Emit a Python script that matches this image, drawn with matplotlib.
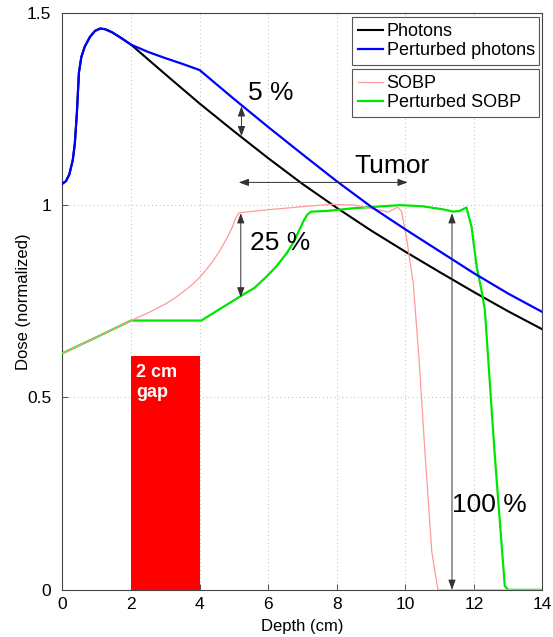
import matplotlib
matplotlib.use("Agg")
import matplotlib.pyplot as plt
from matplotlib.patches import Rectangle

plt.rcParams['font.family'] = ['Liberation Sans', 'DejaVu Sans']

# Photon depth-dose (nominal and perturbed by a 2 cm gap)
photon_depth = [0, 0.1, 0.2, 0.3, 0.36, 0.42, 0.48, 0.55, 0.65, 0.8, 0.95, 1.1, 1.25,
                1.45, 1.7, 2.0, 3, 4, 5, 6, 7, 8, 9, 10, 11, 12, 13, 14]
photon_dose = [1.056, 1.062, 1.080, 1.117, 1.16, 1.24, 1.345, 1.385, 1.412, 1.437, 1.453,
               1.459, 1.457, 1.449, 1.435, 1.417, 1.340, 1.264, 1.192, 1.122, 1.055, 0.993,
               0.934, 0.879, 0.826, 0.774, 0.724, 0.677]

pert_photon_depth = [0, 0.1, 0.2, 0.3, 0.36, 0.42, 0.48, 0.55, 0.65, 0.8, 0.95, 1.1, 1.25,
                     1.45, 1.7, 2.0, 2.5, 3, 3.5, 4, 5, 6, 7, 8, 9, 10, 11, 12, 13, 14]
pert_photon_dose = [1.056, 1.062, 1.080, 1.117, 1.16, 1.24, 1.345, 1.385, 1.412, 1.437, 1.453,
                    1.459, 1.457, 1.449, 1.435, 1.417, 1.398, 1.382, 1.367, 1.351, 1.276,
                    1.203, 1.132, 1.062, 0.996, 0.937, 0.880, 0.823, 0.770, 0.722]

# Spread-out Bragg peak (nominal and perturbed)
sobp_depth = [0, 1, 2, 2.5, 3, 3.3, 3.6, 3.8, 4.0, 4.2, 4.4, 4.6, 4.8, 4.95, 5.05, 5.15,
              6, 7, 7.8, 8.5, 9.25, 9.5, 9.78, 9.89, 10.03, 10.23, 10.4, 10.57, 10.77,
              10.95, 14]
sobp_dose = [0.615, 0.657, 0.700, 0.720, 0.743, 0.760, 0.780, 0.795, 0.812, 0.833, 0.856,
             0.883, 0.915, 0.942, 0.966, 0.980, 0.988, 0.996, 1.002, 1.0, 0.987, 0.982,
             0.995, 0.983, 0.918, 0.797, 0.60, 0.36, 0.10, 0.0, 0.0]

pert_sobp_depth = [0, 1, 2, 4.05, 4.5, 5.17, 5.6, 5.95, 6.25, 6.54, 6.75, 6.92, 7.05, 7.15,
                   7.25, 7.74, 8.5, 9.84, 10.5, 11.1, 11.4, 11.59, 11.78, 11.93, 12.08,
                   12.22, 12.32, 12.6, 12.9, 13.0, 14]
pert_sobp_dose = [0.615, 0.657, 0.700, 0.700, 0.725, 0.762, 0.785, 0.814, 0.842, 0.875,
                  0.905, 0.938, 0.962, 0.976, 0.983, 0.985, 0.992, 1.0, 0.997, 0.989, 0.983,
                  0.985, 0.994, 0.944, 0.84, 0.779, 0.727, 0.36, 0.01, 0.0, 0.0]

gap_start, gap_end, gap_height = 2.0, 4.0, 0.608

x_ticks = [0, 2, 4, 6, 8, 10, 12, 14]
y_ticks = [0, 0.5, 1, 1.5]
y_tick_labels = ['0', '0.5', '1', '1.5']

fig = plt.figure(figsize=(5.53, 6.37), dpi=100)
ax = fig.add_axes([0.113, 0.074, 0.868, 0.906])

# gap block
ax.add_patch(Rectangle((gap_start, 0), gap_end - gap_start, gap_height,
                       facecolor='#ff0000', edgecolor='none', zorder=1))
ax.text(gap_start + 0.14, gap_height - 0.02, '2 cm\ngap', color='white', fontsize=13,
        fontweight='bold', va='top', ha='left', linespacing=1.25, zorder=2)

l1, = ax.plot(photon_depth, photon_dose, color='black', lw=1.5, zorder=3, label='Photons')
l2, = ax.plot(pert_photon_depth, pert_photon_dose, color='#0000ff', lw=1.6, zorder=4,
              label='Perturbed photons')
l4, = ax.plot(pert_sobp_depth, pert_sobp_dose, color='#00e600', lw=1.6, zorder=3,
              label='Perturbed SOBP')
l3, = ax.plot(sobp_depth, sobp_dose, color='#ff9999', lw=0.9, zorder=3, label='SOBP')

arrow_kw = dict(arrowstyle='<|-|>,head_length=0.6,head_width=0.22', mutation_scale=10,
                color='#333333', lw=0.7, shrinkA=0, shrinkB=0)


def double_arrow(p0, p1):
    ax.annotate('', xy=p1, xytext=p0, arrowprops=arrow_kw, zorder=5)


double_arrow((5.22, 1.179), (5.22, 1.257))
ax.text(5.41, 1.273, '5 %', fontsize=19, ha='left', va='baseline')

double_arrow((5.14, 1.059), (10.07, 1.059))
ax.text(9.61, 1.083, 'Tumor', fontsize=19, ha='center', va='baseline')

double_arrow((5.2, 0.760), (5.2, 0.979))
ax.text(5.47, 0.883, '25 %', fontsize=19, ha='left', va='baseline')

double_arrow((11.36, 0.979), (11.36, 0.0))
ax.text(11.35, 0.203, '100 %', fontsize=19, ha='left', va='baseline')

ax.set_xlim(0, 14)
ax.set_ylim(0, 1.5)
ax.set_xticks(x_ticks)
ax.set_yticks(y_ticks)
ax.set_yticklabels(y_tick_labels)
ax.tick_params(direction='in', length=4, width=0.6, labelsize=12.5, color='#333333')
ax.tick_params(axis='x', pad=5)
ax.tick_params(axis='y', pad=8)
ax.grid(True, linestyle=(0, (1, 3)), color='#bbbbbb', lw=0.7)
ax.set_axisbelow(True)
for s in ax.spines.values():
    s.set_color('#444444')
    s.set_linewidth(0.8)

ax.set_xlabel('Depth (cm)', fontsize=12, labelpad=5)
ax.set_ylabel('Dose (normalized)', fontsize=12, labelpad=-3)

leg_kw = dict(loc='upper left', mode='expand', fontsize=13, frameon=True, fancybox=False,
              edgecolor='#555555', framealpha=1, borderaxespad=0, handlelength=1.4,
              handletextpad=0.2, labelspacing=0.1, borderpad=0.32)
leg1 = ax.legend(handles=[l1, l2], bbox_to_anchor=(0.603, 0.70, 0.39, 0.292), **leg_kw)
leg1.get_frame().set_linewidth(0.8)
ax.add_artist(leg1)
leg2 = ax.legend(handles=[l3, l4], bbox_to_anchor=(0.603, 0.60, 0.39, 0.302), **leg_kw)
leg2.get_frame().set_linewidth(0.8)

fig.savefig('out.png', dpi=100)
